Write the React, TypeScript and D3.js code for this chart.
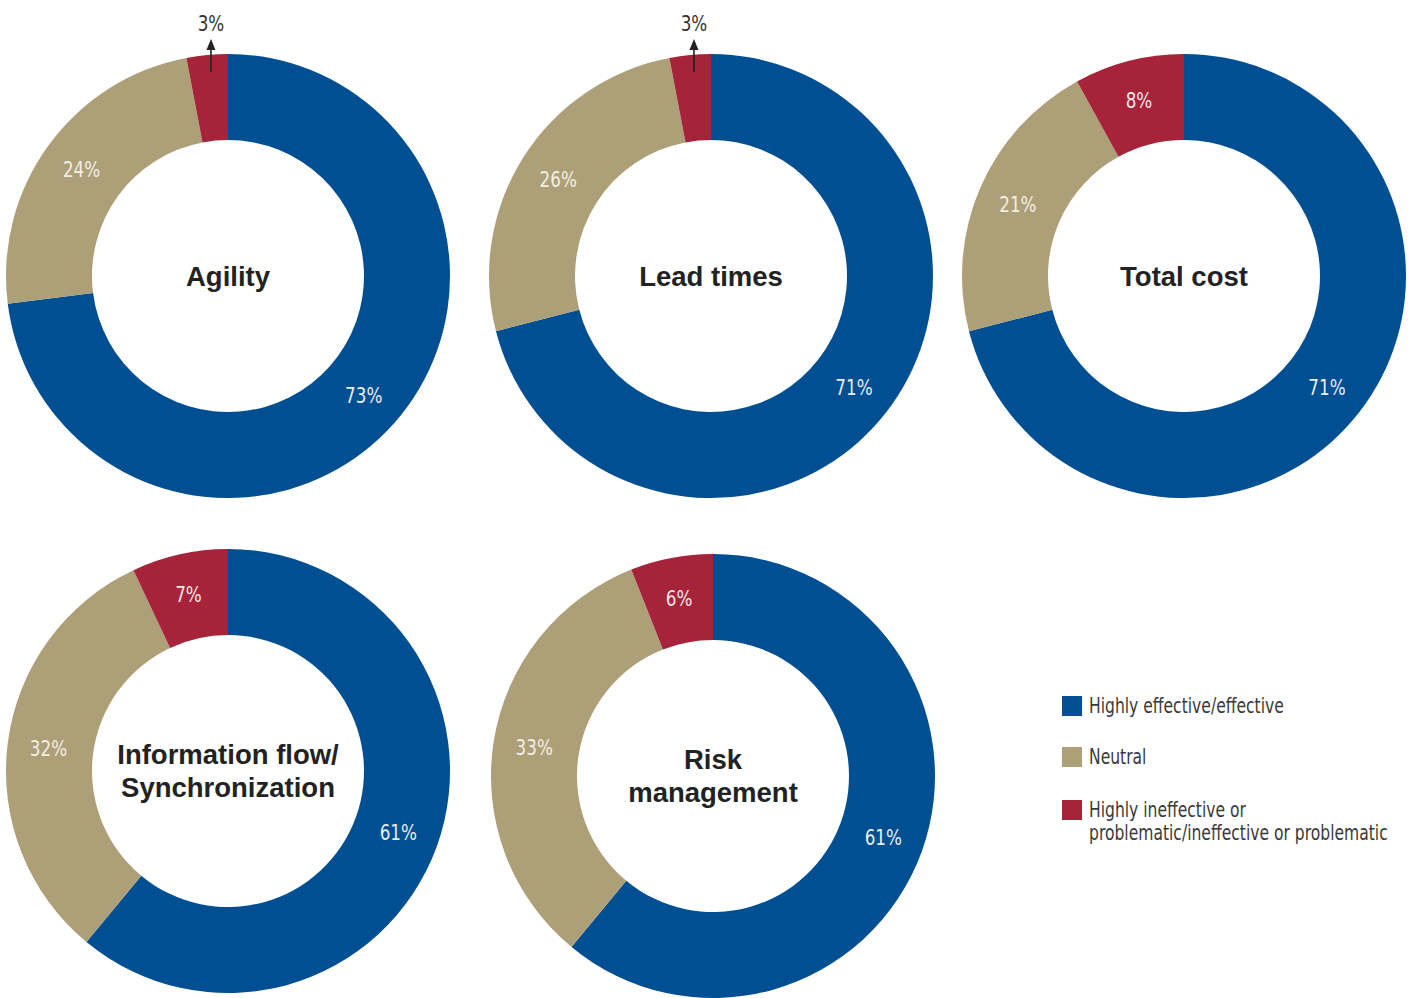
import { arc, pie, PieArcDatum } from "d3";

const categories = ["Highly effective/effective", "Neutral", "Highly ineffective or problematic/ineffective or problematic"];
const legendLines = [["Highly effective/effective"], ["Neutral"], ["Highly ineffective or", "problematic/ineffective or problematic"]];
const colors = ["#004f92", "#ad9f77", "#a6233a"];
const labelColors = ["#e9edf4", "#f3efe6", "#f3e4e7"];

const titles = [["Agility"], ["Lead times"], ["Total cost"], ["Information flow/", "Synchronization"], ["Risk", "management"]];
const effective = [73, 71, 71, 61, 61];
const neutral = [24, 26, 21, 32, 33];
const ineffective = [3, 3, 8, 7, 6];

const width = 1413;
const height = 998;
const outerR = 222;
const innerR = 136;
const labelR = 181;
const centers = [
  { x: 228, y: 276 },
  { x: 711, y: 276 },
  { x: 1184, y: 276 },
  { x: 228, y: 771 },
  { x: 713, y: 776 },
];

// no condensed font installed, so squeeze DejaVu horizontally
const labelFont = "'DejaVu Sans', 'Roboto', sans-serif";
const titleFont = "'Liberation Sans', 'Roboto', Arial, sans-serif";

type Slice = { key: number; value: number };

const pieGen = pie<Slice>()
  .value((d) => d.value)
  .sort(null);

const arcGen = arc<PieArcDatum<Slice>>().innerRadius(innerR).outerRadius(outerR);
const labelArc = arc<PieArcDatum<Slice>>().innerRadius(labelR).outerRadius(labelR);

type NarrowProps = { x: number; y: number; size: number; fill: string; anchor: string; squeeze?: number; children: string };

const Narrow = ({ x, y, size, fill, anchor, squeeze = 0.8, children }: NarrowProps) => (
  <g transform={`translate(${x},${y}) scale(${squeeze},1)`}>
    <text textAnchor={anchor} dy="0.36em" fontFamily={labelFont} fontSize={size} fill={fill}>
      {children}
    </text>
  </g>
);

const Donut = ({ idx }: { idx: number }) => {
  const data: Slice[] = [
    { key: 0, value: effective[idx] },
    { key: 1, value: neutral[idx] },
    { key: 2, value: ineffective[idx] },
  ];
  const arcs = pieGen(data);
  const c = centers[idx];
  const lines = titles[idx];
  return (
    <g transform={`translate(${c.x},${c.y})`}>
      {arcs.map((a) => (
        <path key={a.data.key} d={arcGen(a) ?? ""} fill={colors[a.data.key]} />
      ))}
      {arcs.map((a) => {
        const [lx, ly] = labelArc.centroid(a);
        if (a.data.value <= 4) {
          // small slice: label outside with arrow
          return (
            <g key={`l${a.data.key}`}>
              <line x1={lx} x2={lx} y1={-204} y2={-228} stroke="#222" strokeWidth={1.6} />
              <path d={`M${lx},${-237} L${lx - 4.5},${-226} L${lx + 4.5},${-226} Z`} fill="#222" />
              <Narrow x={lx} y={-253} size={21} fill="#333" anchor="middle">
                {`${a.data.value}%`}
              </Narrow>
            </g>
          );
        }
        return (
          <Narrow key={`l${a.data.key}`} x={lx} y={ly} size={21} fill={labelColors[a.data.key]} anchor="middle">
            {`${a.data.value}%`}
          </Narrow>
        );
      })}
      {lines.map((t, i) => (
        <text
          key={t}
          x={0}
          y={(i - (lines.length - 1) / 2) * 33}
          dy="0.36em"
          textAnchor="middle"
          fontFamily={titleFont}
          fontWeight="bold"
          fontSize={27.5}
          fill="#222"
        >
          {t}
        </text>
      ))}
    </g>
  );
};

const Legend = () => {
  const rows = [706, 757, 810];
  return (
    <g>
      {categories.map((cat, i) => (
        <g key={cat}>
          <rect x={1062} y={rows[i] - 10} width={20} height={20} fill={colors[i]} />
          {legendLines[i].map((ln, j) => (
            <Narrow key={ln} x={1089} y={rows[i] + j * 23} size={20.5} squeeze={0.76} fill="#3a3a3a" anchor="start">
              {ln}
            </Narrow>
          ))}
        </g>
      ))}
    </g>
  );
};

const App = () => {
  return (
    <svg width={width} height={height} style={{ position: "absolute", left: 0, top: 0, background: "#fff" }}>
      {titles.map((_, i) => (
        <Donut key={i} idx={i} />
      ))}
      <Legend />
    </svg>
  );
};

export default App;
